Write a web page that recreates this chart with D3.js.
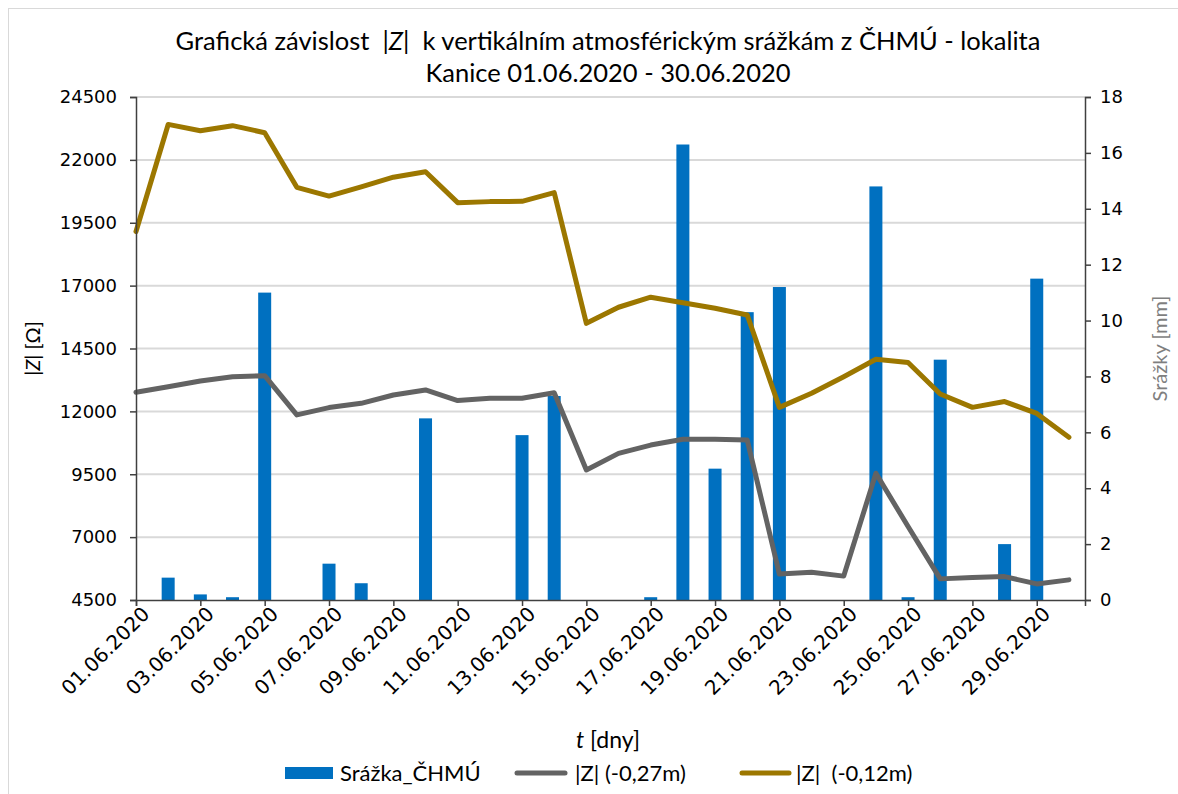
<!DOCTYPE html>
<html>
<head>
<meta charset="utf-8">
<script src="https://cdn.jsdelivr.net/npm/d3@7"></script>
<style>
	body { margin: 0; background: #fff; }
	text { font-family: Lato, 'Open Sans', sans-serif; fill: #000; }
</style>
</head>
<body>
<svg width="1178" height="794"></svg>
<script>
const dates = ['01.06.2020','02.06.2020','03.06.2020','04.06.2020','05.06.2020','06.06.2020',
	'07.06.2020','08.06.2020','09.06.2020','10.06.2020','11.06.2020','12.06.2020','13.06.2020',
	'14.06.2020','15.06.2020','16.06.2020','17.06.2020','18.06.2020','19.06.2020','20.06.2020',
	'21.06.2020','22.06.2020','23.06.2020','24.06.2020','25.06.2020','26.06.2020','27.06.2020',
	'28.06.2020','29.06.2020','30.06.2020'];
const rain = [0, 0.8, 0.2, 0.1, 11.0, 0, 1.3, 0.6, 0, 6.5, 0, 0, 5.9, 7.3, 0,
	0, 0.1, 16.3, 4.7, 10.3, 11.2, 0, 0, 14.8, 0.1, 8.6, 0, 2.0, 11.5, 0];
const z027 = [12760, 12980, 13210, 13380, 13420, 11860, 12150, 12320, 12650, 12850,
	12430, 12520, 12520, 12740, 9670, 10330, 10660, 10890, 10890, 10860,
	5530, 5600, 5450, 9540, 7420, 5340, 5390, 5430, 5140, 5300];
const z012 = [19150, 23410, 23160, 23360, 23080, 20910, 20560, 20930, 21310, 21530,
	20300, 20340, 20350, 20700, 15500, 16140, 16540, 16320, 16100, 15830,
	12160, 12720, 13380, 14070, 13940, 12690, 12160, 12390, 11920, 10970];
const zTicks = [4500, 7000, 9500, 12000, 14500, 17000, 19500, 22000, 24500];
const rainTicks = [0, 2, 4, 6, 8, 10, 12, 14, 16, 18];

const svg = d3.select('svg');
const width = +svg.attr('width');
const height = +svg.attr('height');

const margin = {top: 97, right: 93, bottom: 194, left: 136};
const innerWidth = width - margin.left - margin.right;
const innerHeight = height - margin.top - margin.bottom;

const axisColor = '#404040';
const barColor = '#0070C0';
const greyColor = '#636363';
const goldColor = '#9C7700';
const tickFont = "'DejaVu Sans', sans-serif";

// chart frame
svg.append('rect')
	.attr('x', 8.5).attr('y', 8.5)
	.attr('width', 1200).attr('height', 800)
	.attr('fill', 'none')
	.attr('stroke', '#d9d9d9');

const xScale = d3.scaleLinear()
	.domain([0, dates.length - 0.5])
	.range([0, innerWidth]);

const yScale = d3.scaleLinear()
	.domain([4500, 24500])
	.range([innerHeight, 0]);

const y2Scale = d3.scaleLinear()
	.domain([0, 18])
	.range([innerHeight, 0]);

const g = svg.append('g')
	.attr('transform', `translate(${margin.left}, ${margin.top})`);

// gridlines
g.append('g')
	.selectAll('line')
	.data(zTicks.slice(1))
	.join('line')
		.attr('x1', 0)
		.attr('x2', innerWidth)
		.attr('y1', d => yScale(d))
		.attr('y2', d => yScale(d))
		.attr('stroke', '#d9d9d9')
		.attr('stroke-width', 2);

// bars
const barWidth = 13;
g.append('g')
	.selectAll('rect')
	.data(rain)
	.join('rect')
		.attr('x', (d, i) => xScale(i) - barWidth / 2)
		.attr('y', d => y2Scale(d))
		.attr('width', barWidth)
		.attr('height', d => innerHeight - y2Scale(d))
		.attr('fill', barColor);

const lineGenerator = d3.line()
	.x((d, i) => xScale(i))
	.y(d => yScale(d));

g.append('path')
	.attr('d', lineGenerator(z027))
	.attr('fill', 'none')
	.attr('stroke', greyColor)
	.attr('stroke-width', 5)
	.attr('stroke-linejoin', 'round')
	.attr('stroke-linecap', 'round');

g.append('path')
	.attr('d', lineGenerator(z012))
	.attr('fill', 'none')
	.attr('stroke', goldColor)
	.attr('stroke-width', 5)
	.attr('stroke-linejoin', 'round')
	.attr('stroke-linecap', 'round');

const styleAxis = (axisG, size) => {
	axisG
		.attr('font-size', size)
		.attr('font-family', null)
		.attr('fill', null);
	axisG.select('.domain')
		.attr('fill', 'none')
		.attr('stroke', axisColor)
		.attr('stroke-width', 1.5);
	axisG.selectAll('.tick line').attr('stroke', axisColor).attr('stroke-width', 1.5);
	axisG.selectAll('.tick text')
		.style('font-size', size + 'px')
		.style('font-family', tickFont)
		.style('fill', '#000');
};

// left axis
const yAxis = d3.axisLeft(yScale)
	.tickValues(zTicks)
	.tickSize(6)
	.tickPadding(13)
	.tickFormat(d3.format('d'));

const yAxisG = g.append('g').call(yAxis);
styleAxis(yAxisG, 18);

// right axis
const y2Axis = d3.axisRight(y2Scale)
	.tickValues(rainTicks)
	.tickSize(6)
	.tickPadding(9);

const y2AxisG = g.append('g')
	.attr('transform', `translate(${innerWidth}, 0)`)
	.call(y2Axis);
styleAxis(y2AxisG, 18);

// bottom axis
const xAxis = d3.axisBottom(xScale)
	.tickValues(d3.range(0, dates.length, 2))
	.tickSize(6)
	.tickFormat(i => dates[i]);

const xAxisG = g.append('g')
	.attr('transform', `translate(0, ${innerHeight})`)
	.call(xAxis);
styleAxis(xAxisG, 20);
xAxisG.selectAll('.tick text')
	.attr('text-anchor', 'end')
	.attr('dy', '0.35em')
	.attr('transform', 'translate(3, 4) rotate(-45)');

// axis titles
const yLabel = svg.append('text')
	.attr('transform', `translate(40, ${margin.top + innerHeight / 2}) rotate(-90)`)
	.attr('text-anchor', 'middle')
	.attr('font-size', 20);
yLabel.append('tspan').text('|');
yLabel.append('tspan').attr('font-style', 'italic').text('Z');
yLabel.append('tspan').text('| [Ω]');

svg.append('text')
	.attr('transform', `translate(1167, ${margin.top + innerHeight / 2}) rotate(-90)`)
	.attr('text-anchor', 'middle')
	.attr('font-size', 20)
	.style('fill', '#7f7f7f')
	.text('Srážky [mm]');

const xLabel = svg.append('text')
	.attr('x', 608)
	.attr('y', 748)
	.attr('text-anchor', 'middle')
	.attr('font-size', 23);
xLabel.append('tspan').attr('font-style', 'italic').text('t');
xLabel.append('tspan').text(' [dny]');

// title
const title = svg.append('text')
	.attr('text-anchor', 'middle')
	.attr('font-size', 25.5)
	.style('white-space', 'pre');
const t1 = title.append('tspan').attr('x', 608).attr('y', 50);
t1.append('tspan').text('Grafická závislost  |');
t1.append('tspan').attr('font-style', 'italic').text('Z');
t1.append('tspan').text('|  k vertikálním atmosférickým srážkám z ČHMÚ - lokalita');
title.append('tspan').attr('x', 608).attr('y', 82)
	.text('Kanice 01.06.2020 - 30.06.2020');

// legend
const legend = svg.append('g').attr('transform', 'translate(0, 773)');

legend.append('rect')
	.attr('x', 285).attr('y', -6)
	.attr('width', 48).attr('height', 12)
	.attr('fill', barColor);
legend.append('text')
	.attr('x', 340).attr('y', 8)
	.attr('font-size', 22)
	.text('Srážka_ČHMÚ');

legend.append('line')
	.attr('x1', 517).attr('x2', 565)
	.attr('stroke', greyColor)
	.attr('stroke-width', 5)
	.attr('stroke-linecap', 'round');
legend.append('text')
	.attr('x', 575).attr('y', 8)
	.attr('font-size', 22)
	.text('|Z| (-0,27m)');

legend.append('line')
	.attr('x1', 742).attr('x2', 789)
	.attr('stroke', goldColor)
	.attr('stroke-width', 5)
	.attr('stroke-linecap', 'round');
legend.append('text')
	.attr('x', 796).attr('y', 8)
	.attr('font-size', 22)
	.style('white-space', 'pre')
	.text('|Z|  (-0,12m)');
</script>
</body>
</html>
